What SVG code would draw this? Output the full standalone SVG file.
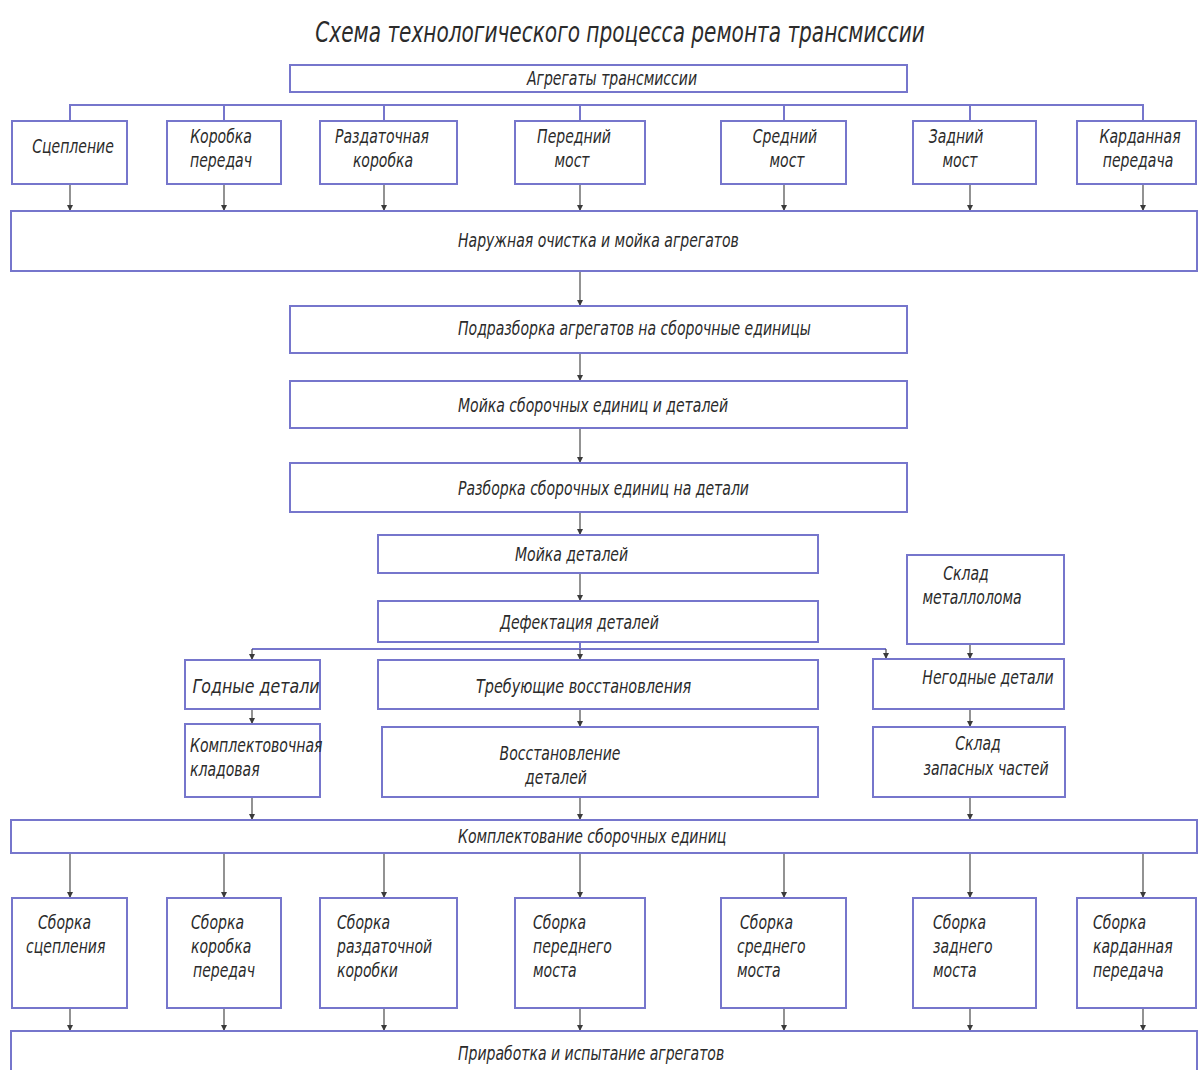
<svg xmlns="http://www.w3.org/2000/svg" width="1200" height="1070" viewBox="0 0 1200 1070">
<style>
.b{fill:#fff;stroke:#7676cc;stroke-width:2}
.bus{fill:none;stroke:#7676cc;stroke-width:2}
.c{fill:none;stroke:#4a4a4a;stroke-width:1.2;marker-end:url(#ah)}
text{font-family:"DejaVu Sans Condensed","Liberation Sans Narrow","Liberation Sans",sans-serif;font-style:italic;font-size:20px;fill:#2b2b2b}
.m{text-anchor:middle}
.t{font-size:29px}
</style>
<defs>
<marker id="ah" viewBox="0 0 6 8" refX="6" refY="4" markerWidth="6" markerHeight="8" markerUnits="userSpaceOnUse" orient="auto">
<path d="M0,1 L6,4 L0,7 z" fill="#3a3a3a"/>
</marker>
</defs>
<rect width="1200" height="1070" fill="#fff"/>
<text class="t m" transform="translate(620 0) scale(.77 1)" x="0" y="42">Схема технологического процесса ремонта трансмиссии</text>

<g id="connectors">
<path class="bus" d="M70,121 V105 H1143 V121 M224,105 V121 M384,105 V121 M580,105 V121 M784,105 V121 M970,105 V121"/>
<path class="c" d="M70,184 V211"/><path class="c" d="M224,184 V211"/><path class="c" d="M384,184 V211"/><path class="c" d="M580,184 V211"/><path class="c" d="M784,184 V211"/><path class="c" d="M970,184 V211"/><path class="c" d="M1143,184 V211"/>
<path class="c" d="M580,271 V306"/>
<path class="c" d="M580,353 V381"/>
<path class="c" d="M580,428 V463"/>
<path class="c" d="M580,512 V535"/>
<path class="c" d="M580,573 V601"/>
<path class="bus" d="M580,642 V649 M252,649 H886"/>
<path class="c" d="M252,649 V660"/><path class="c" d="M580,649 V660"/><path class="c" d="M886,649 V659"/>
<path class="c" d="M970,644 V659"/>
<path class="c" d="M252,709 V724"/><path class="c" d="M580,709 V727"/><path class="c" d="M970,709 V727"/>
<path class="c" d="M252,797 V820"/><path class="c" d="M580,797 V820"/><path class="c" d="M970,797 V820"/>
<path class="c" d="M70,853 V898"/><path class="c" d="M224,853 V898"/><path class="c" d="M384,853 V898"/><path class="c" d="M580,853 V898"/><path class="c" d="M784,853 V898"/><path class="c" d="M970,853 V898"/><path class="c" d="M1143,853 V898"/>
<path class="c" d="M70,1008 V1031"/><path class="c" d="M224,1008 V1031"/><path class="c" d="M384,1008 V1031"/><path class="c" d="M580,1008 V1031"/><path class="c" d="M784,1008 V1031"/><path class="c" d="M970,1008 V1031"/><path class="c" d="M1143,1008 V1031"/>
</g>

<g id="n-agg"><rect class="b" x="290" y="65" width="617" height="27"/><text class="m" transform="translate(612 0) scale(.78 1)" x="0" y="85">Агрегаты трансмиссии</text></g>

<g id="n-t1"><rect class="b" x="12" y="121" width="115" height="63"/><text class="m" transform="translate(73 0) scale(.78 1)" x="0" y="153">Сцепление</text></g>
<g id="n-t2"><rect class="b" x="167" y="121" width="114" height="63"/><text class="m" transform="translate(221 0) scale(.78 1)" x="0" y="143">Коробка</text><text class="m" transform="translate(221 0) scale(.78 1)" x="0" y="167">передач</text></g>
<g id="n-t3"><rect class="b" x="320" y="121" width="137" height="63"/><text class="m" transform="translate(382 0) scale(.78 1)" x="0" y="143">Раздаточная</text><text class="m" transform="translate(383 0) scale(.78 1)" x="0" y="167">коробка</text></g>
<g id="n-t4"><rect class="b" x="515" y="121" width="130" height="63"/><text class="m" transform="translate(574 0) scale(.78 1)" x="0" y="143">Передний</text><text class="m" transform="translate(572 0) scale(.78 1)" x="0" y="167">мост</text></g>
<g id="n-t5"><rect class="b" x="721" y="121" width="125" height="63"/><text class="m" transform="translate(785 0) scale(.78 1)" x="0" y="143">Средний</text><text class="m" transform="translate(787 0) scale(.78 1)" x="0" y="167">мост</text></g>
<g id="n-t6"><rect class="b" x="913" y="121" width="123" height="63"/><text class="m" transform="translate(956 0) scale(.78 1)" x="0" y="143">Задний</text><text class="m" transform="translate(960 0) scale(.78 1)" x="0" y="167">мост</text></g>
<g id="n-t7"><rect class="b" x="1077" y="121" width="119" height="63"/><text class="m" transform="translate(1140 0) scale(.78 1)" x="0" y="143">Карданная</text><text class="m" transform="translate(1138 0) scale(.78 1)" x="0" y="167">передача</text></g>

<g id="n-wash"><rect class="b" x="11" y="211" width="1186" height="60"/><text transform="translate(458 0) scale(.78 1)" x="0" y="247">Наружная очистка и мойка агрегатов</text></g>
<g id="n-sub"><rect class="b" x="290" y="306" width="617" height="47"/><text transform="translate(458 0) scale(.78 1)" x="0" y="335">Подразборка агрегатов на сборочные единицы</text></g>
<g id="n-wash2"><rect class="b" x="290" y="381" width="617" height="47"/><text transform="translate(458 0) scale(.78 1)" x="0" y="412">Мойка сборочных единиц и деталей</text></g>
<g id="n-dis"><rect class="b" x="290" y="463" width="617" height="49"/><text transform="translate(458 0) scale(.78 1)" x="0" y="495">Разборка сборочных единиц на детали</text></g>
<g id="n-wash3"><rect class="b" x="378" y="535" width="440" height="38"/><text transform="translate(515 0) scale(.78 1)" x="0" y="561">Мойка деталей</text></g>
<g id="n-def"><rect class="b" x="378" y="601" width="440" height="41"/><text transform="translate(500 0) scale(.78 1)" x="0" y="629">Дефектация деталей</text></g>

<g id="n-good"><rect class="b" x="185" y="660" width="135" height="49"/><text class="m" transform="translate(256 0) scale(.88 1)" x="0" y="693">Годные детали</text></g>
<g id="n-req"><rect class="b" x="378" y="660" width="440" height="49"/><text transform="translate(476 0) scale(.8 1)" x="0" y="693">Требующие восстановления</text></g>
<g id="n-bad"><rect class="b" x="873" y="659" width="191" height="50"/><text class="m" transform="translate(988 0) scale(.78 1)" x="0" y="684">Негодные детали</text></g>
<g id="n-scrap"><rect class="b" x="907" y="555" width="157" height="89"/><text class="m" transform="translate(966 0) scale(.78 1)" x="0" y="580">Склад</text><text class="m" transform="translate(972 0) scale(.78 1)" x="0" y="604">металлолома</text></g>

<g id="n-store"><rect class="b" x="185" y="724" width="135" height="73"/><text transform="translate(190 0) scale(.78 1)" x="0" y="752">Комплектовочная</text><text transform="translate(190 0) scale(.78 1)" x="0" y="776">кладовая</text></g>
<g id="n-rest"><rect class="b" x="382" y="727" width="436" height="70"/><text class="m" transform="translate(560 0) scale(.78 1)" x="0" y="760">Восстановление</text><text class="m" transform="translate(556 0) scale(.78 1)" x="0" y="784">деталей</text></g>
<g id="n-spare"><rect class="b" x="873" y="727" width="192" height="70"/><text class="m" transform="translate(978 0) scale(.78 1)" x="0" y="750">Склад</text><text class="m" transform="translate(986 0) scale(.78 1)" x="0" y="775">запасных частей</text></g>

<g id="n-kompl"><rect class="b" x="11" y="820" width="1186" height="33"/><text transform="translate(458 0) scale(.78 1)" x="0" y="843">Комплектование сборочных единиц</text></g>

<g id="n-s1"><rect class="b" x="12" y="898" width="115" height="110"/><text transform="translate(38 0) scale(.78 1)" x="0" y="929">Сборка</text><text transform="translate(26 0) scale(.78 1)" x="0" y="953">сцепления</text></g>
<g id="n-s2"><rect class="b" x="167" y="898" width="114" height="110"/><text transform="translate(191 0) scale(.78 1)" x="0" y="929">Сборка</text><text transform="translate(191 0) scale(.78 1)" x="0" y="953">коробка</text><text transform="translate(193 0) scale(.78 1)" x="0" y="977">передач</text></g>
<g id="n-s3"><rect class="b" x="320" y="898" width="137" height="110"/><text transform="translate(337 0) scale(.78 1)" x="0" y="929">Сборка</text><text transform="translate(337 0) scale(.78 1)" x="0" y="953">раздаточной</text><text transform="translate(337 0) scale(.78 1)" x="0" y="977">коробки</text></g>
<g id="n-s4"><rect class="b" x="515" y="898" width="130" height="110"/><text transform="translate(533 0) scale(.78 1)" x="0" y="929">Сборка</text><text transform="translate(533 0) scale(.78 1)" x="0" y="953">переднего</text><text transform="translate(533 0) scale(.78 1)" x="0" y="977">моста</text></g>
<g id="n-s5"><rect class="b" x="721" y="898" width="125" height="110"/><text transform="translate(740 0) scale(.78 1)" x="0" y="929">Сборка</text><text transform="translate(737 0) scale(.78 1)" x="0" y="953">среднего</text><text transform="translate(737 0) scale(.78 1)" x="0" y="977">моста</text></g>
<g id="n-s6"><rect class="b" x="913" y="898" width="123" height="110"/><text transform="translate(933 0) scale(.78 1)" x="0" y="929">Сборка</text><text transform="translate(933 0) scale(.78 1)" x="0" y="953">заднего</text><text transform="translate(933 0) scale(.78 1)" x="0" y="977">моста</text></g>
<g id="n-s7"><rect class="b" x="1077" y="898" width="119" height="110"/><text transform="translate(1093 0) scale(.78 1)" x="0" y="929">Сборка</text><text transform="translate(1093 0) scale(.78 1)" x="0" y="953">карданная</text><text transform="translate(1093 0) scale(.78 1)" x="0" y="977">передача</text></g>

<g id="n-run"><rect class="b" x="11" y="1031" width="1186" height="60"/><text transform="translate(458 0) scale(.78 1)" x="0" y="1060">Приработка и испытание агрегатов</text></g>
</svg>
